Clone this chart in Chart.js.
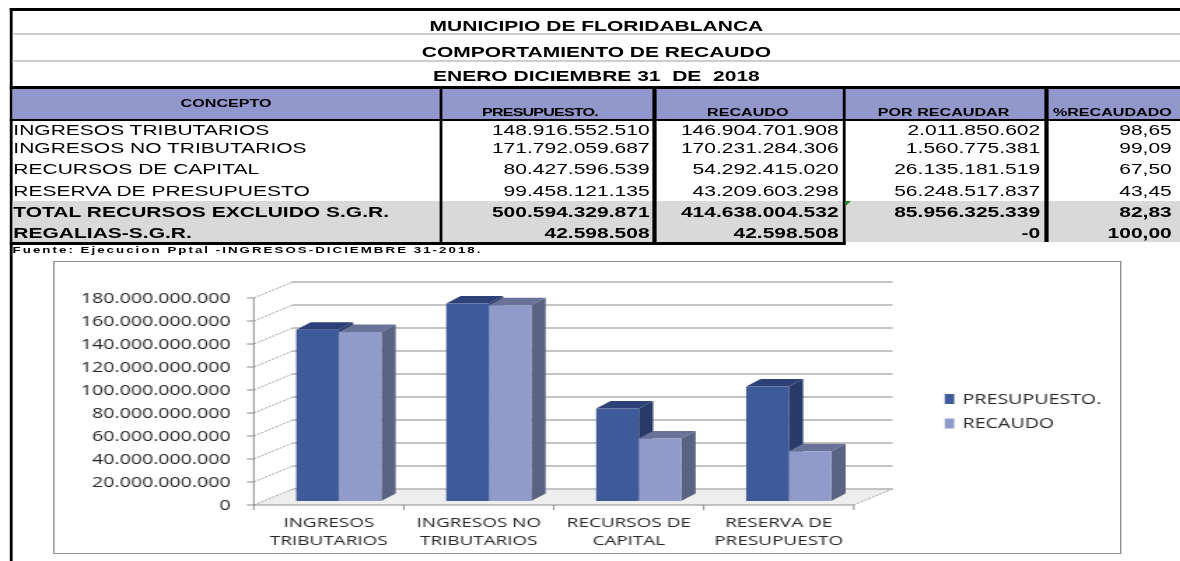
<!DOCTYPE html>
<html>
<head>
<meta charset="utf-8">
<script src="https://cdn.jsdelivr.net/npm/chart.js@4.4.1/dist/chart.umd.min.js"></script>
<style>
html, body { margin: 0; padding: 0; background: #fff; overflow: hidden; }
/* the reference is stretched horizontally, so the whole page is laid out narrow and scaled */
#page { position: absolute; left: 0; top: 0; width: 843px; height: 561px;
        transform: scaleX(1.4); transform-origin: 0 0;
        font-family: Arial, "Liberation Sans", sans-serif; color: #000; }
#page div { position: absolute; }
.bk { background: #000; }
.gr { background: #cdcdcd; }
.title { left: 9px; width: 834px; height: 18px; line-height: 18px; text-align: center;
         font-weight: bold; font-size: 15px; white-space: pre; }
.hd { font-weight: bold; font-size: 11.5px; text-align: center; height: 14px; line-height: 14px; white-space: nowrap; }
.cell { font-size: 15px; white-space: nowrap; }
.num { text-align: right; }
#chartBox { left: 37.5px; top: 261px; width: 761px; height: 291px; border: 1px solid #8f8f8f; }
#chart { display: block; }
</style>
</head>
<body>
<div id="page">
  <div class="bk" style="left:7px;top:8px;width:836px;height:3px"></div>
  <div class="bk" style="left:7px;top:8px;width:2.2px;height:553px"></div>
  <div class="gr" style="left:9px;top:33px;width:834px;height:2px"></div>
  <div class="gr" style="left:9px;top:60px;width:834px;height:2px"></div>
  <div class="title" style="top:17px">MUNICIPIO DE FLORIDABLANCA</div>
  <div class="title" style="top:43px">COMPORTAMIENTO DE RECAUDO</div>
  <div class="title" style="top:67px">ENERO DICIEMBRE 31  DE  2018</div>
  <div class="bk" style="left:7px;top:86px;width:836px;height:3px"></div>
  <div style="left:9px;top:89px;width:834px;height:30px;background:#9196cb"></div>
  <div style="left:9px;top:201px;width:834px;height:41px;background:#d9d9d9"></div>
  <div class="bk" style="left:7px;top:119px;width:836px;height:2px"></div>
  <div class="hd" style="left:9px;width:305px;top:96px">CONCEPTO</div>
  <div class="hd" style="left:316.5px;width:138.4px;top:105px;letter-spacing:-0.6px">PRESUPUESTO.</div>
  <div class="hd" style="left:468.6px;width:131px;top:105px">RECAUDO</div>
  <div class="hd" style="left:604.3px;width:139.4px;top:105px">POR RECAUDAR</div>
  <div class="hd" style="left:748.6px;width:92px;top:105px">%RECAUDADO</div>
  <div id="rows"></div>
  <div class="bk" style="left:314.3px;top:87px;width:2.2px;height:157px"></div>
  <div class="bk" style="left:466.4px;top:87px;width:2.2px;height:157px"></div>
  <div class="bk" style="left:602.1px;top:87px;width:2.2px;height:157px"></div>
  <div class="bk" style="left:746.4px;top:87px;width:2.2px;height:155px"></div>
  <div class="bk" style="left:7px;top:242px;width:597px;height:3px"></div>
  <div style="left:604.3px;top:201px;width:0;height:0;border-top:5px solid #1f8f1f;border-right:4px solid transparent"></div>
  <div style="left:9px;top:244px;height:12px;line-height:12px;font-weight:bold;font-size:9.5px;letter-spacing:1.45px;white-space:nowrap">Fuente: Ejecucion Pptal -INGRESOS-DICIEMBRE 31-2018.</div>
  <div id="chartBox"><canvas id="chart" width="761" height="291" style="width:761px;height:291px"></canvas></div>
</div>
<script>
// chart data
const categories = [
    ['INGRESOS', 'TRIBUTARIOS'],
    ['INGRESOS NO', 'TRIBUTARIOS'],
    ['RECURSOS DE', 'CAPITAL'],
    ['RESERVA DE', 'PRESUPUESTO'],
];
const presupuesto = [148916552510, 171792059687, 80427596539, 99458121135];
const recaudo = [146904701908, 170231284306, 54292415020, 43209603298];
const yMax = 180000000000;
const yStep = 20000000000;

// table data
const concepts = ['INGRESOS TRIBUTARIOS', 'INGRESOS NO TRIBUTARIOS', 'RECURSOS DE CAPITAL',
    'RESERVA DE PRESUPUESTO', 'TOTAL RECURSOS EXCLUIDO S.G.R.', 'REGALIAS-S.G.R.'];
const presupuestoTotals = [500594329871, 42598508];
const recaudoTotals = [414638004532, 42598508];
const porRecaudar = [2011850602, 1560775381, 26135181519, 56248517837, 85956325339, -0];
const pctRecaudado = ['98,65', '99,09', '67,50', '43,45', '82,83', '100,00'];

const fmt = (v) => {
    if (Object.is(v, -0)) return '-0';
    return String(Math.round(v)).replace(/\B(?=(\d{3})+(?!\d))/g, '.');
};

// table layout
const rowTop = [120, 138, 157, 179, 201, 222];
const rowH = [18, 19, 22, 22, 21, 20];
const numCols = [[316.5, 464], [468.6, 599], [604.3, 743], [748.6, 837]];

const rowsEl = document.getElementById('rows');
const presCol = [...presupuesto, ...presupuestoTotals];
const recCol = [...recaudo, ...recaudoTotals];
concepts.forEach((name, i) => {
    const bold = i >= 4 ? 'font-weight:bold;' : '';
    const pos = `top:${rowTop[i]}px;height:${rowH[i]}px;line-height:${rowH[i] + 1}px;`;
    let html = `<div class="cell" style="left:9.5px;${pos}${bold}">${name}</div>`;
    [fmt(presCol[i]), fmt(recCol[i]), fmt(porRecaudar[i]), pctRecaudado[i]].forEach((txt, j) => {
        const [l, r] = numCols[j];
        html += `<div class="cell num" style="left:${l}px;width:${r - l}px;${pos}${bold}">${txt}</div>`;
    });
    rowsEl.insertAdjacentHTML('beforeend', html);
});

// 3D look: walls, floor, bar tops and sides, drawn from the scales and bar elements
const FRONT = { dx: -7.1, dy: 4 };
const BACK = { dx: 20.7, dy: -12 };
const DEPTH = { dx: 10.3, dy: -7.5 };

const threeD = {
    id: 'threeD',
    beforeDatasetsDraw(chart) {
        const { ctx, chartArea: a, scales: { x, y } } = chart;
        const line = (x1, y1, x2, y2) => {
            ctx.beginPath();
            ctx.moveTo(x1, y1);
            ctx.lineTo(x2, y2);
            ctx.stroke();
        };
        const poly = (pts) => {
            ctx.beginPath();
            pts.forEach(([px, py], k) => (k ? ctx.lineTo(px, py) : ctx.moveTo(px, py)));
            ctx.closePath();
            ctx.fill();
        };
        ctx.save();
        const y0 = y.getPixelForValue(0);

        // floor
        ctx.fillStyle = '#eeeeee';
        poly([[a.left + FRONT.dx, y0 + FRONT.dy], [a.right + FRONT.dx, y0 + FRONT.dy],
              [a.right + BACK.dx, y0 + BACK.dy], [a.left + BACK.dx, y0 + BACK.dy]]);

        y.ticks.forEach((t) => {
            const py = y.getPixelForValue(t.value);
            // back wall gridline
            ctx.strokeStyle = '#c4c4c4';
            ctx.lineWidth = 2;
            line(a.left + BACK.dx, py + BACK.dy, a.right + BACK.dx, py + BACK.dy);
            // side wall
            ctx.strokeStyle = '#a0a0a0';
            ctx.lineWidth = 1;
            ctx.setLineDash([2, 1]);
            line(a.left + FRONT.dx, py + FRONT.dy, a.left + BACK.dx, py + BACK.dy);
            ctx.setLineDash([]);
            // tick mark
            ctx.strokeStyle = '#8c8c8c';
            line(a.left + FRONT.dx - 5, py + FRONT.dy, a.left + FRONT.dx, py + FRONT.dy);
        });

        ctx.strokeStyle = '#8c8c8c';
        ctx.lineWidth = 1;
        // front vertical axis
        line(a.left + FRONT.dx, y.getPixelForValue(y.max) + FRONT.dy, a.left + FRONT.dx, y0 + FRONT.dy);
        // floor front edge and category ticks
        line(a.left + FRONT.dx, y0 + FRONT.dy, a.right + FRONT.dx, y0 + FRONT.dy);
        const n = chart.data.labels.length;
        for (let i = 0; i <= n; i++) {
            const px = a.left + (i * (a.right - a.left)) / n + FRONT.dx;
            line(px, y0 + FRONT.dy, px, y0 + FRONT.dy + 5);
        }
        // floor right edge
        ctx.strokeStyle = '#a0a0a0';
        ctx.setLineDash([2, 1]);
        line(a.right + FRONT.dx, y0 + FRONT.dy, a.right + BACK.dx, y0 + BACK.dy);
        ctx.setLineDash([]);

        // tops and sides of the bars, painted before the front faces
        chart.data.datasets.forEach((ds, i) => {
            chart.getDatasetMeta(i).data.forEach((bar) => {
                const { x: cx, y: top, base, width } = bar.getProps(['x', 'y', 'base', 'width'], true);
                const l = cx - width / 2;
                const r = cx + width / 2;
                ctx.fillStyle = ds.topColor;
                poly([[l, top], [r, top], [r + DEPTH.dx, top + DEPTH.dy], [l + DEPTH.dx, top + DEPTH.dy]]);
                ctx.fillStyle = ds.sideColor;
                poly([[r, top], [r + DEPTH.dx, top + DEPTH.dy], [r + DEPTH.dx, base + DEPTH.dy], [r, base]]);
            });
        });
        ctx.restore();
    },
    afterDraw(chart) {
        // legend on the right
        const { ctx } = chart;
        ctx.save();
        ctx.font = '14px "Open Sans", sans-serif';
        ctx.textBaseline = 'middle';
        chart.data.datasets.forEach((ds, i) => {
            const cy = 137 + i * 24.5;
            ctx.fillStyle = ds.backgroundColor;
            ctx.fillRect(635.8, cy - 5, 6.8, 10);
            ctx.fillStyle = '#262626';
            ctx.fillText(ds.label, 648.6, cy + 1);
        });
        ctx.restore();
    },
};

Chart.defaults.font.family = '"Open Sans", sans-serif';
Chart.defaults.font.size = 14;
Chart.defaults.color = '#262626';

new Chart(document.getElementById('chart').getContext('2d'), {
    type: 'bar',
    data: {
        labels: categories,
        datasets: [
            {
                label: 'PRESUPUESTO.',
                data: presupuesto,
                backgroundColor: '#3e5a98',
                topColor: '#2d4178',
                sideColor: '#293a69',
                categoryPercentage: 0.567,
                barPercentage: 1,
                borderWidth: 0,
            },
            {
                label: 'RECAUDO',
                data: recaudo,
                backgroundColor: '#919bc9',
                topColor: '#6a7299',
                sideColor: '#5b6382',
                categoryPercentage: 0.567,
                barPercentage: 1,
                borderWidth: 0,
            },
        ],
    },
    options: {
        responsive: false,
        animation: false,
        layout: { padding: { left: 0, top: 29, right: 183.1, bottom: 0 } },
        plugins: {
            legend: { display: false },
            tooltip: { enabled: false },
        },
        scales: {
            x: {
                grid: { display: false, drawTicks: false },
                border: { display: false },
                ticks: {
                    padding: 13,
                    labelOffset: -7.1,
                    maxRotation: 0,
                    autoSkip: false,
                    font: { size: 13.5, lineHeight: 1.333 },
                },
                afterFit: (scale) => { scale.height = 52; },
            },
            y: {
                min: 0,
                max: yMax,
                grid: { display: false, drawTicks: false },
                border: { display: false },
                ticks: {
                    stepSize: yStep,
                    padding: 23.6,
                    labelOffset: 5,
                    callback: (v) => fmt(v),
                },
                afterFit: (scale) => { scale.width = 149.4; },
            },
        },
    },
    plugins: [threeD],
});
</script>
</body>
</html>
